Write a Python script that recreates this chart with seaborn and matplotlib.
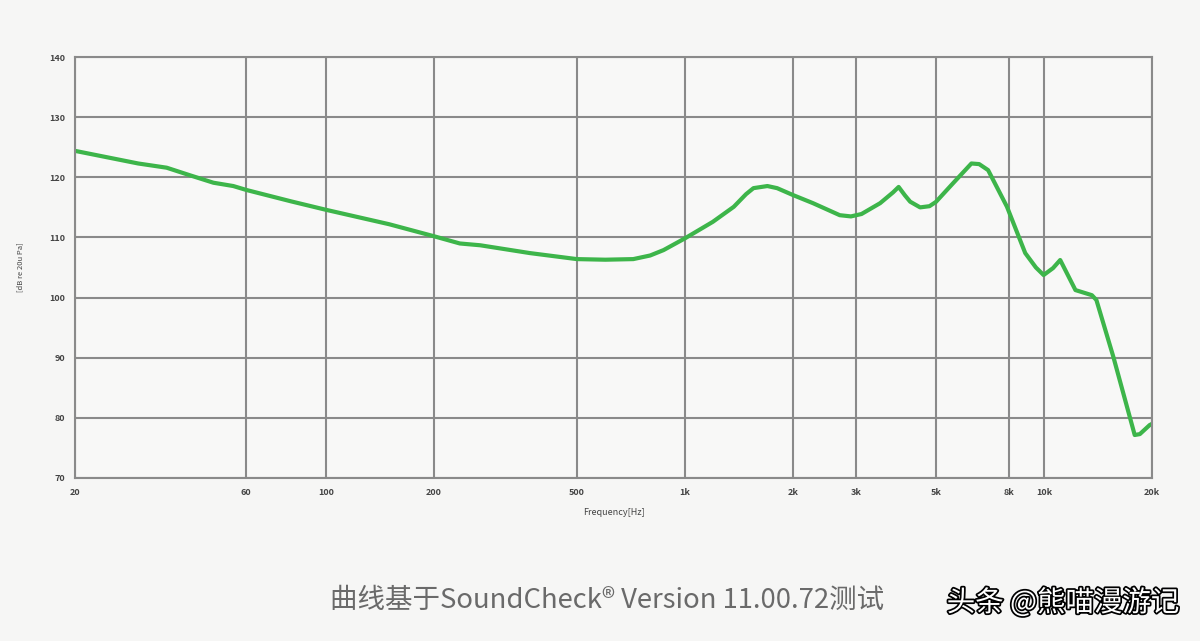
import matplotlib
matplotlib.use("Agg")
import matplotlib.pyplot as plt
import matplotlib.patheffects as pe
import seaborn as sns
import pandas as pd

# frequency response
freq_hz = [20, 30, 36, 42, 48.6, 55.2, 60, 80, 100, 150, 200, 236, 269, 370, 500, 600, 718,
           800, 872, 1000, 1196, 1368, 1480, 1552, 1697, 1806, 2000, 2274, 2700, 2900, 3104,
           3497, 3800, 3938, 4100, 4240, 4520, 4800, 5000, 5580, 6280, 6600, 6990, 7890,
           8870, 9500, 9980, 10600, 11100, 12240, 13600, 14000, 15600, 17900, 18500,
           19700, 20000]
level_db = [124.4, 122.3, 121.6, 120.3, 119.1, 118.55, 117.9, 116.0, 114.6, 112.2, 110.2,
            109.0, 108.7, 107.4, 106.4, 106.3, 106.4, 107.0, 107.9, 109.85, 112.6, 115.1,
            117.2, 118.2, 118.55, 118.2, 117.05, 115.7, 113.7, 113.5, 113.9, 115.7, 117.5,
            118.4, 117.0, 115.95, 115.0, 115.2, 115.9, 119.0, 122.3, 122.2, 121.2, 115.1,
            107.4, 105.0, 103.75, 104.9, 106.25, 101.25, 100.4, 99.6, 90.2, 77.15, 77.3,
            78.8, 79.0]

x_ticks = [20, 60, 100, 200, 500, 1000, 2000, 3000, 5000, 8000, 10000, 20000]
x_labels = ["20", "60", "100", "200", "500", "1k", "2k", "3k", "5k", "8k", "10k", "20k"]
y_ticks = [70, 80, 90, 100, 110, 120, 130, 140]

sns.set_style("white")
plt.rcParams['font.family'] = ['Noto Sans CJK SC', 'DejaVu Sans']

df = pd.DataFrame({"freq": freq_hz, "db": level_db})

fig = plt.figure(figsize=(12, 6.41), dpi=100, facecolor="#f6f6f5")
ax = fig.add_axes([0.0625, 0.2543, 0.8975, 0.6567])
ax.set_facecolor("#f8f8f7")

sns.lineplot(data=df, x="freq", y="db", ax=ax, color="#3db54a", linewidth=3.0, sort=True,
             solid_joinstyle="round", solid_capstyle="round")

ax.set_xscale("log")
ax.set_xlim(20, 20000)
ax.set_ylim(70, 140)
ax.set_xticks(x_ticks)
ax.set_xticklabels(x_labels)
ax.minorticks_off()
ax.set_yticks(y_ticks)
ax.grid(True, color="#8a8a8a", linewidth=1.5)
for s in ax.spines.values():
    s.set_color("#8a8a8a")
    s.set_linewidth(1.5)
ax.tick_params(axis="both", length=2, width=0.8, color="#777777", labelsize=6.5,
               labelcolor="#444444", pad=5)
for lab in ax.get_xticklabels() + ax.get_yticklabels():
    lab.set_fontweight("bold")
ax.set_xlabel("Frequency[Hz]", fontsize=6.5, color="#444444", labelpad=8)
ax.set_ylabel("[dB re 20u Pa]", fontsize=5.5, color="#444444", labelpad=18)

fig.text(0.506, 0.064, "曲线基于SoundCheck® Version 11.00.72测试", fontsize=19.8,
         color="#6a6a6a", ha="center", va="center")
t = fig.text(0.983, 0.059, "头条 @熊喵漫游记", fontsize=20.5, color="white",
             ha="right", va="center")
t.set_path_effects([pe.Stroke(linewidth=2.5, foreground="black"), pe.Normal()])

fig.savefig("out.png", dpi=100, facecolor=fig.get_facecolor())
